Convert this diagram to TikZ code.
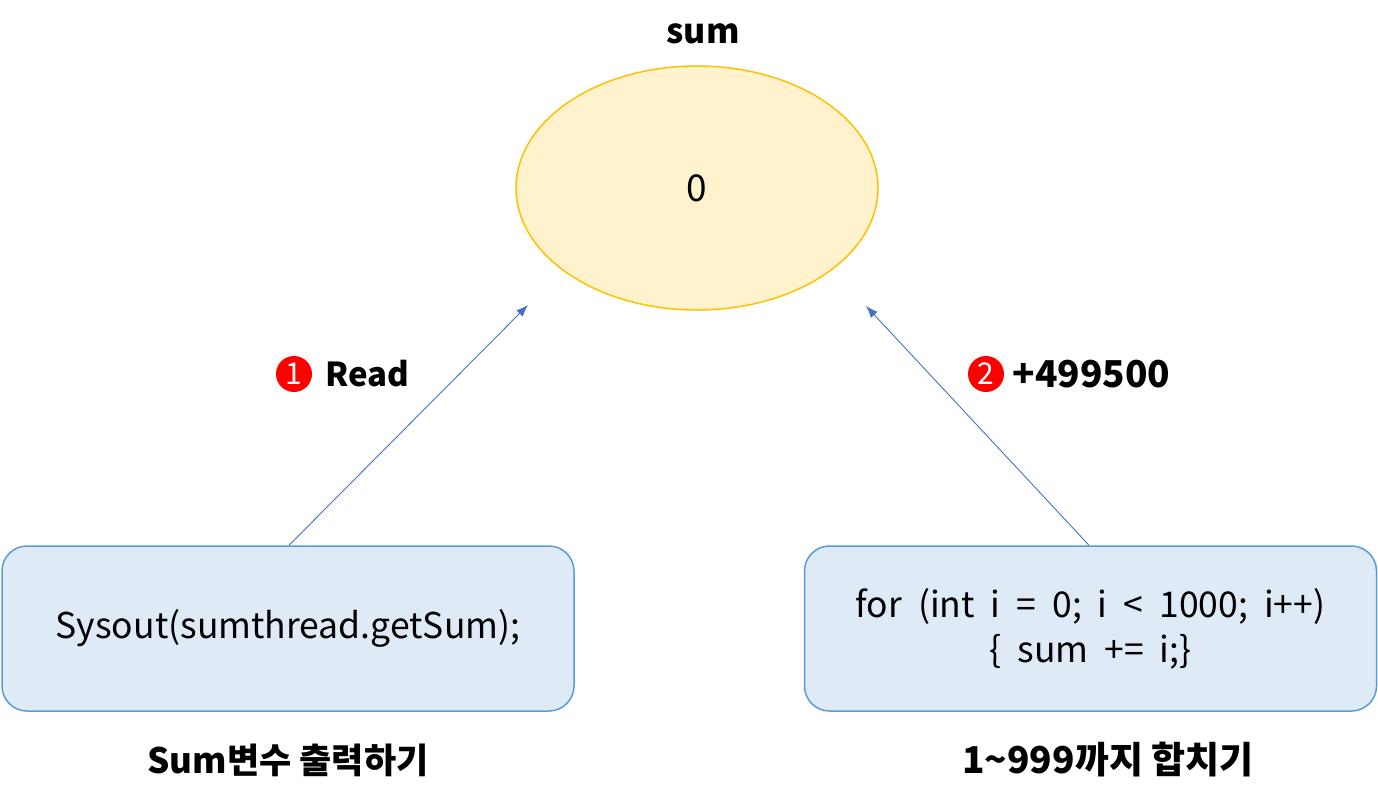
\documentclass[tikz,border=0pt]{standalone}
\usepackage{fontspec}
\setmainfont{Noto Sans CJK KR}
\usetikzlibrary{shapes.geometric,arrows.meta}
\definecolor{ellfill}{HTML}{FFF2CC}
\definecolor{elldraw}{HTML}{FFC000}
\definecolor{boxfill}{HTML}{DEEBF7}
\definecolor{boxdraw}{HTML}{5B9BD5}
\definecolor{arr}{HTML}{4472C4}
\definecolor{badge}{HTML}{FF0000}
\tikzset{
  codebox/.style={draw=boxdraw, fill=boxfill, line width=1.5pt, rounded corners=25pt,
    minimum width=572pt, minimum height=165pt, align=center, font=\fontsize{35.5}{45}\selectfont},
  lbl/.style={font=\fontsize{35}{40}\selectfont\bfseries},
  conn/.style={draw=arr, line width=0.9pt, -{Latex[length=12pt,width=9pt]}},
  num/.style={circle, fill=badge, text=white, inner sep=0pt, minimum size=36pt, font=\fontsize{30}{30}\selectfont}
}
\begin{document}
\begin{tikzpicture}[x=1pt,y=-1pt]
\useasboundingbox (0,0) rectangle (1378,806);
\node[ellipse, draw=elldraw, fill=ellfill, line width=1.5pt, minimum width=362pt, minimum height=244pt,
  font=\fontsize{37}{37}\selectfont] (ell) at (697,188) {0};
\node[font=\fontsize{34}{34}\selectfont\bfseries] (sumlbl) at (703,34) {sum};
\node[codebox] (lbox) at (288,628.5) {Sysout(sumthread.getSum);};
\node[codebox] (rbox) at (1090.5,628.5) {\spaceskip=16pt for (int i = 0; i < 1000; i++)\\\spaceskip=16pt \{ sum += i;\}};
\node[lbl] (llbl) at (288,760) {Sum변수 출력하기};
\node[lbl, font=\fontsize{37}{40}\selectfont\bfseries] (rlbl) at (1108,760) {1\textasciitilde999까지 합치기};
\coordinate (lend) at (528,305);
\coordinate (rend) at (866,306);
\draw[conn] (lbox.north) ++(1,0) coordinate (lstart) (lstart) -- (lend);
\draw[conn] (rbox.north) ++(-1.5,0) coordinate (rstart) (rstart) -- (rend);
\node[num] (n1) at (294,374) {1};
\node[font=\fontsize{33}{40}\selectfont\bfseries, anchor=west] (readlbl) at (322,374) {Read};
\node[num] (n2) at (986,374) {2};
\node[font=\fontsize{37}{40}\selectfont\bfseries, anchor=west] (addlbl) at (1009,374) {+499500};
\end{tikzpicture}
\end{document}
